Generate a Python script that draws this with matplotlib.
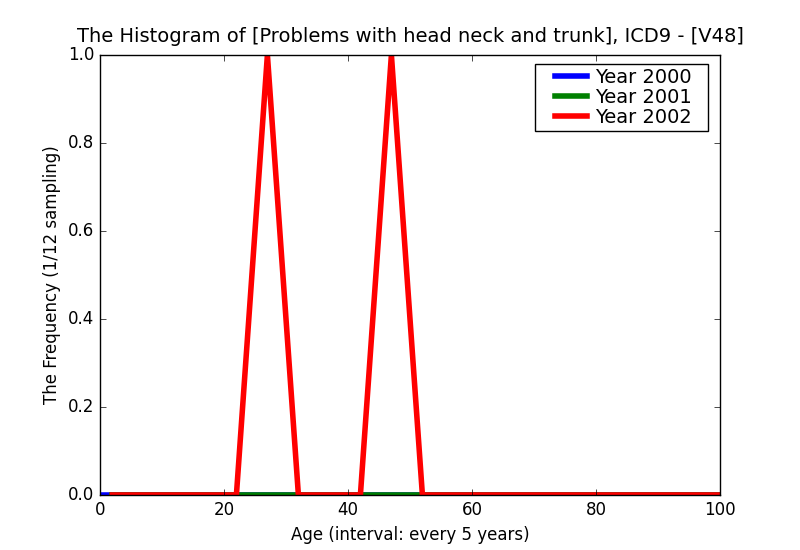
import matplotlib
matplotlib.use('Agg')
import matplotlib.pyplot as plt
from matplotlib.legend_handler import HandlerLine2D

plt.style.use('classic')

# ages sampled every 5 years
ages_2000 = [0, 5, 10, 15, 20, 25, 30, 35, 40, 45, 50, 55, 60, 65, 70, 75, 80, 85, 90, 95, 100]
freq_2000 = [0, 0, 0, 0, 0, 0, 0, 0, 0, 0, 0, 0, 0, 0, 0, 0, 0, 0, 0, 0, 0]

ages_2001 = [2, 7, 12, 17, 22, 27, 32, 37, 42, 47, 52, 57, 62, 67, 72, 77, 82, 87, 92, 97, 102]
freq_2001 = [0, 0, 0, 0, 0, 0, 0, 0, 0, 0, 0, 0, 0, 0, 0, 0, 0, 0, 0, 0, 0]

ages_2002 = [2, 7, 12, 17, 22, 27, 32, 37, 42, 47, 52, 57, 62, 67, 72, 77, 82, 87, 92, 97, 102]
freq_2002 = [0, 0, 0, 0, 0, 1.0, 0, 0, 0, 1.0, 0, 0, 0, 0, 0, 0, 0, 0, 0, 0, 0]

fig = plt.figure(figsize=(8, 5.5), dpi=100)
fig.patch.set_facecolor('white')
ax = fig.add_axes([0.125, 0.1, 0.775, 0.8])

l0, = ax.plot(ages_2000, freq_2000, color='b', linewidth=4, label='Year 2000  ')
l1, = ax.plot(ages_2001, freq_2001, color='g', linewidth=4, label='Year 2001  ')
l2, = ax.plot(ages_2002, freq_2002, color='r', linewidth=4, label='Year 2002  ')

ax.set_xlim(0, 100)
ax.set_ylim(0, 1.0)
ax.set_xticks([0, 20, 40, 60, 80, 100])
ax.set_yticks([0.0, 0.2, 0.4, 0.6, 0.8, 1.0])
ax.tick_params(labelsize=12)

ax.set_title('The Histogram of [Problems with head neck and trunk], ICD9 - [V48]',
             fontsize=14, pad=9)
ax.set_xlabel('Age (interval: every 5 years)', fontsize=12)
ax.set_ylabel('The Frequency (1/12 sampling)', fontsize=12)

hmap = {l: HandlerLine2D(xpad=0.83) for l in (l0, l1, l2)}
leg = ax.legend(loc='upper right', bbox_to_anchor=(0.9806, 0.9795), borderaxespad=0,
                fontsize=14, handlelength=2.47, borderpad=0.2,
                labelspacing=0.05, handletextpad=0.4, fancybox=False, numpoints=1,
                handler_map=hmap)

fig.savefig('out.png', dpi=100, facecolor='white')
